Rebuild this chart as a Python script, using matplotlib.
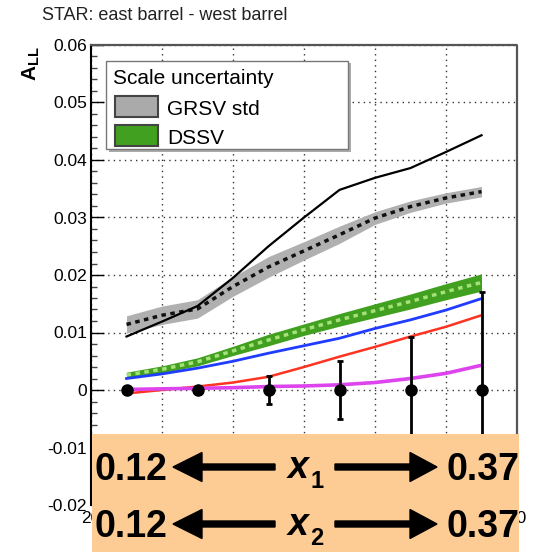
import matplotlib
matplotlib.use("Agg")
import matplotlib.pyplot as plt
from matplotlib.patches import Rectangle, FancyArrow
from matplotlib.ticker import MultipleLocator

plt.rcParams['font.family'] = ['Liberation Sans', 'DejaVu Sans']
plt.rcParams['mathtext.fontset'] = 'custom'
plt.rcParams['mathtext.rm'] = 'Liberation Sans'
plt.rcParams['mathtext.bf'] = 'Liberation Sans:bold'

# measured asymmetry, east barrel - west barrel dijets
x_bins = [25, 35, 45, 55, 65, 75]
all_data = [0, 0, 0, 0, 0, 0]
all_err = [0.0005, 0.0006, 0.0025, 0.005, 0.0092, 0.017]

# theory curves
x_theory = [25, 30, 35, 40, 45, 50, 55, 60, 65, 70, 75]
grsv_std = [0.0114, 0.0130, 0.0141, 0.0180, 0.0214, 0.0242, 0.0270, 0.0299, 0.0319, 0.0334, 0.0345]
grsv_std_unc = [0.0015, 0.0016, 0.0016, 0.0017, 0.0018, 0.0016, 0.0015, 0.0011, 0.0010, 0.0009, 0.0009]
dssv = [0.0026, 0.0036, 0.0049, 0.0068, 0.0087, 0.0105, 0.0122, 0.0138, 0.0154, 0.0171, 0.0187]
dssv_unc = [0.0005, 0.0006, 0.0007, 0.0008, 0.0010, 0.0010, 0.0011, 0.0012, 0.0013, 0.0014, 0.0015]
curve_black = [0.0093, 0.0119, 0.0146, 0.0195, 0.0250, 0.0300, 0.0348, 0.0369, 0.0386, 0.0414, 0.0443]
curve_blue = [0.0020, 0.0028, 0.0038, 0.0050, 0.0064, 0.0077, 0.0090, 0.0107, 0.0122, 0.0139, 0.0159]
curve_red = [-0.0006, 0.0000, 0.0006, 0.0013, 0.0023, 0.0040, 0.0058, 0.0075, 0.0093, 0.0110, 0.0130]
curve_magenta = [0.0001, 0.0002, 0.0003, 0.0004, 0.0006, 0.0007, 0.0009, 0.0013, 0.0020, 0.0029, 0.0043]

x_ticks = [20, 30, 40, 50, 60, 70, 80]
x_ticklabels = ['20', '', '', '', '', '', '80']
y_ticks = [-0.02, -0.01, 0, 0.01, 0.02, 0.03, 0.04, 0.05, 0.06]
y_ticklabels = ['-0.02', '-0.01', '0', '0.01', '0.02', '0.03', '0.04', '0.05', '0.06']

W, H = 537, 552
fig = plt.figure(figsize=(W / 100, H / 100), dpi=100)
ax = fig.add_axes([91 / W, (H - 505) / H, (517 - 91) / W, (505 - 45) / H])

lo = [c - u for c, u in zip(grsv_std, grsv_std_unc)]
hi = [c + u for c, u in zip(grsv_std, grsv_std_unc)]
ax.fill_between(x_theory, lo, hi, color='#b0b0b0', lw=0, zorder=2)
ax.plot(x_theory, grsv_std, color='#111111', lw=2.5, ls=(0, (1.3, 1.3)), zorder=3)

lo = [c - u for c, u in zip(dssv, dssv_unc)]
hi = [c + u for c, u in zip(dssv, dssv_unc)]
ax.fill_between(x_theory, lo, hi, color='#41a01f', lw=0, zorder=2)
ax.plot(x_theory, dssv, color='#a6e07a', lw=2.5, ls=(0, (1.3, 1.3)), zorder=3)

ax.plot(x_theory, curve_black, color='black', lw=1.6, zorder=3)
ax.plot(x_theory, curve_blue, color='#1f3cff', lw=2, zorder=3)
ax.plot(x_theory, curve_red, color='#ff3322', lw=1.8, zorder=3)
ax.plot(x_theory, curve_magenta, color='#dd44ee', lw=2.6, zorder=3)

ax.errorbar(x_bins, all_data, yerr=all_err, fmt='o', color='black', ms=8,
            elinewidth=2, capsize=2.5, capthick=2, zorder=5)

ax.set_xlim(20, 80)
ax.set_ylim(-0.02, 0.06)
ax.set_xticks(x_ticks)
ax.set_xticklabels(x_ticklabels)
ax.set_yticks(y_ticks)
ax.set_yticklabels(y_ticklabels)
ax.yaxis.set_minor_locator(MultipleLocator(0.002))
ax.tick_params(axis='y', which='major', direction='in', length=9, width=1,
               labelsize=12.5, pad=3)
ax.tick_params(axis='y', which='minor', direction='in', length=4.5, width=1, color='#444444')
ax.tick_params(axis='x', direction='in', length=0, labelsize=12.5, pad=4)
ax.grid(True, which='major', color='#333333', lw=1, ls=(0, (1, 3)))

ax.spines['left'].set_linewidth(1.5)
ax.spines['bottom'].set_visible(False)
for side in ['top', 'right']:
    ax.spines[side].set_linestyle((0, (1.5, 1)))
    ax.spines[side].set_color('#555555')
    ax.spines[side].set_linewidth(1.6)

# legend box with shadow
px = fig.dpi_scale_trans
def inch(x, y):
    return x / 100, (H - y) / 100

fig.patches.append(Rectangle(inch(109, 152), 2.42, 0.89, transform=px,
                             facecolor='#aaaaaa', edgecolor='none', zorder=6))
fig.patches.append(Rectangle(inch(106, 149), 2.42, 0.88, transform=px,
                             facecolor='white', edgecolor='#777777', lw=1, zorder=7))
fig.text(*inch(113, 84), 'Scale uncertainty', transform=px, fontsize=15, zorder=8)
fig.patches.append(Rectangle(inch(115, 117), 0.43, 0.21, transform=px,
                             facecolor='#aaaaaa', edgecolor='#444444', lw=1.5, zorder=8))
fig.text(*inch(167, 115), 'GRSV std', transform=px, fontsize=15, zorder=8)
fig.patches.append(Rectangle(inch(115, 146), 0.43, 0.21, transform=px,
                             facecolor='#41a01f', edgecolor='#444444', lw=1.5, zorder=8))
fig.text(*inch(167, 144), 'DSSV', transform=px, fontsize=15, zorder=8)

fig.text(*inch(42, 20), 'STAR: east barrel - west barrel', transform=px,
         fontsize=13, color='#222222')
fig.text(*inch(31, 64), r'$\mathbf{A}_{\mathbf{LL}}$', transform=px, fontsize=15,
         rotation=90, ha='center', va='center')

# x1 / x2 ranges panel
fig.patches.append(Rectangle(inch(92, 552), 4.27, 1.18, transform=px,
                             facecolor='#fdcb94', edgecolor='none', zorder=10))
for base, arrow_y, sub in [(480, 467, '1'), (537, 524, '2')]:
    fig.text(*inch(94, base), '0.12', transform=px, fontsize=27,
             fontweight='bold', zorder=11)
    fig.text(*inch(447, base), '0.37', transform=px, fontsize=27,
             fontweight='bold', zorder=11)
    fig.text(*inch(288, base - 2), 'x', transform=px, fontsize=27,
             fontweight='bold', fontstyle='italic', zorder=11)
    fig.text(*inch(310, base + 8), sub, transform=px, fontsize=17,
             fontweight='bold', zorder=11)
    ay = (H - arrow_y) / 100
    fig.patches.append(FancyArrow(2.75, ay, -1.02, 0, width=0.06, head_width=0.29,
                                  head_length=0.29, length_includes_head=True,
                                  color='black', transform=px, zorder=11))
    fig.patches.append(FancyArrow(3.35, ay, 1.02, 0, width=0.06, head_width=0.29,
                                  head_length=0.27, length_includes_head=True,
                                  color='black', transform=px, zorder=11))

fig.savefig('out.png', dpi=100)
